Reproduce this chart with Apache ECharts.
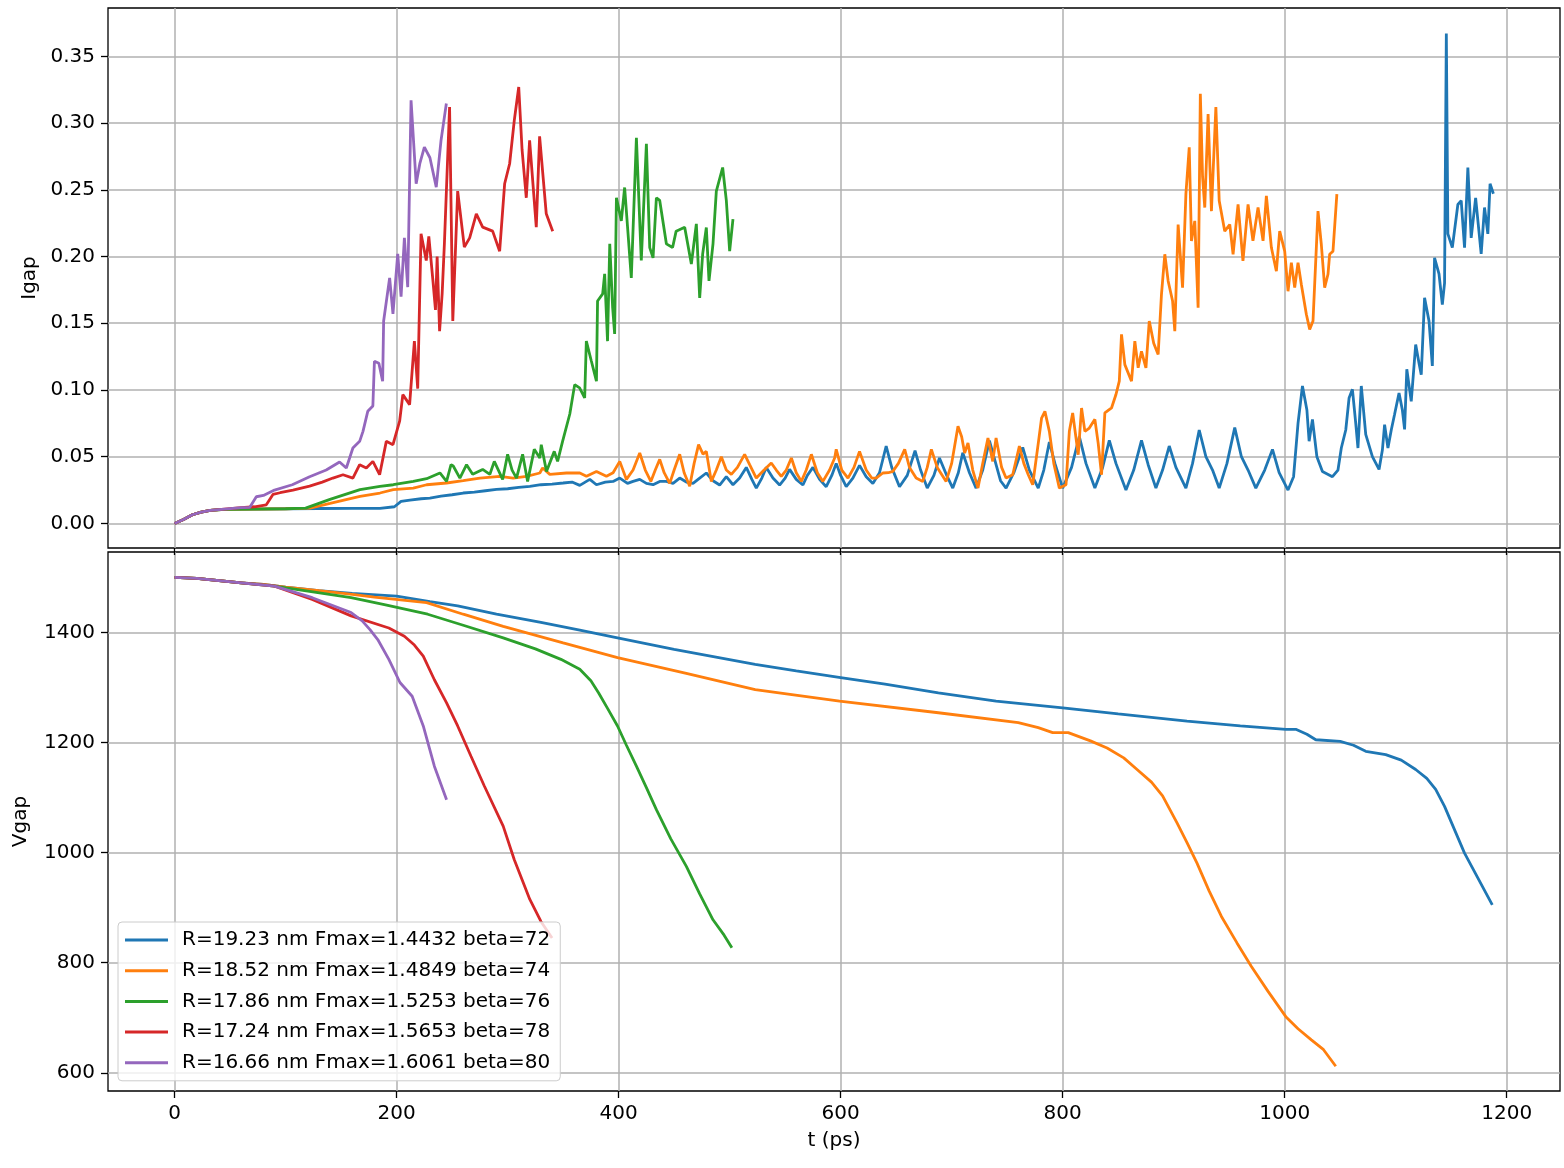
<!DOCTYPE html>
<html>
<head>
<meta charset="utf-8">
<script src="https://cdn.jsdelivr.net/npm/echarts@6/dist/echarts.min.js"></script>
<style>
html,body{margin:0;padding:0;background:#fff;}
#chart{width:1564px;height:1168px;}
</style>
</head>
<body>
<div id="chart"></div>
<script>
// ---------- DATA ----------
const seriesNames = [
  'R=19.23 nm Fmax=1.4432 beta=72',
  'R=18.52 nm Fmax=1.4849 beta=74',
  'R=17.86 nm Fmax=1.5253 beta=76',
  'R=17.24 nm Fmax=1.5653 beta=78',
  'R=16.66 nm Fmax=1.6061 beta=80'
];
const xTicks = [0, 200, 400, 600, 800, 1000, 1200];
const igapTicks = [0, 0.05, 0.10, 0.15, 0.20, 0.25, 0.30, 0.35];
const vgapTicks = [600, 800, 1000, 1200, 1400];

// Igap, [t (ps), Igap]
const igapBlue = [[0,0],[8,0.003],[16,0.0065],[24,0.0085],[32,0.0098],[45,0.0105],[70,0.0108],[100,0.011],[130,0.0112],[160,0.0113],[185,0.0113],[198,0.0125],[204,0.0165],[212,0.0175],[222,0.0185],[230,0.019],[240,0.0205],[250,0.0215],[260,0.0228],[270,0.0235],[280,0.0245],[290,0.0255],[300,0.026],[310,0.027],[320,0.0278],[330,0.029],[340,0.0295],[350,0.0303],[358,0.031],[365,0.0285],[374,0.033],[380,0.029],[388,0.031],[395,0.0315],[401,0.034],[408,0.030],[413,0.0315],[419,0.033],[425,0.030],[431,0.029],[437,0.0315],[443,0.0315],[449,0.030],[455,0.034],[461,0.031],[467,0.030],[473,0.034],[479,0.0378],[485,0.032],[491,0.0288],[497,0.035],[503,0.029],[509,0.034],[515,0.042],[520,0.033],[524,0.0265],[529,0.034],[533,0.042],[539,0.034],[545,0.0288],[550,0.034],[554,0.0405],[560,0.033],[566,0.0288],[570,0.036],[575,0.042],[581,0.033],[587,0.0275],[592,0.036],[596,0.045],[600,0.036],[605,0.0275],[611,0.034],[617,0.0435],[623,0.035],[629,0.030],[635,0.038],[641,0.058],[646,0.042],[653,0.0275],[660,0.036],[667,0.0545],[672,0.040],[678,0.0265],[684,0.036],[689,0.049],[695,0.037],[701,0.0265],[706,0.038],[710,0.053],[716,0.038],[722,0.0265],[728,0.040],[734,0.062],[740,0.044],[744,0.032],[749,0.0265],[756,0.038],[764,0.057],[770,0.040],[778,0.0265],[783,0.040],[788,0.061],[793,0.045],[800,0.0265],[808,0.042],[815,0.065],[821,0.045],[829,0.0265],[836,0.042],[842,0.0623],[848,0.045],[857,0.025],[864,0.040],[871,0.0623],[877,0.044],[884,0.0265],[890,0.040],[896,0.058],[902,0.042],[911,0.0265],[917,0.045],[923,0.070],[929,0.050],[935,0.040],[941,0.0265],[948,0.045],[955,0.0718],[961,0.050],[967,0.040],[974,0.0265],[982,0.040],[989,0.0555],[995,0.038],[1003,0.025],[1008,0.035],[1012,0.075],[1016,0.103],[1020,0.085],[1022,0.0616],[1025,0.078],[1029,0.050],[1034,0.039],[1043,0.035],[1048,0.040],[1051,0.0565],[1055,0.070],[1058,0.094],[1061,0.1005],[1064,0.075],[1066,0.0565],[1069,0.103],[1073,0.0668],[1079,0.050],[1085,0.0405],[1088,0.055],[1090,0.074],[1093,0.0565],[1096,0.070],[1099,0.0818],[1103,0.0978],[1106,0.085],[1108,0.0705],[1110,0.1155],[1114,0.0915],[1118,0.134],[1121,0.120],[1123,0.1115],[1126,0.169],[1130,0.1517],[1133,0.118],[1135,0.199],[1139,0.187],[1142,0.164],[1144,0.180],[1145.6,0.367],[1147,0.217],[1151,0.2067],[1156,0.239],[1159,0.2418],[1162,0.2067],[1165,0.2667],[1168,0.214],[1172,0.244],[1177,0.202],[1180,0.2367],[1183,0.217],[1185,0.2545],[1188,0.247]];
const igapOrange = [[0,0],[8,0.003],[16,0.0065],[24,0.0085],[32,0.0098],[45,0.0105],[70,0.0108],[100,0.011],[122,0.0115],[140,0.015],[167,0.0203],[185,0.0228],[197,0.0253],[215,0.0265],[227,0.029],[245,0.0303],[260,0.032],[275,0.034],[293,0.0353],[305,0.034],[317,0.0353],[329,0.0378],[331.5,0.0415],[338,0.0368],[353,0.0378],[365,0.0378],[371,0.0353],[380,0.039],[389,0.0353],[395,0.038],[401,0.0465],[407,0.033],[413,0.040],[419,0.0528],[424,0.040],[429,0.0315],[433,0.040],[437,0.048],[441,0.038],[446,0.030],[450,0.040],[455,0.0518],[459,0.038],[464,0.0278],[468,0.045],[472,0.059],[476,0.052],[479,0.054],[483.5,0.0315],[488,0.040],[492.5,0.050],[497,0.040],[501.5,0.0368],[507,0.042],[513.5,0.0518],[518,0.044],[524,0.034],[531,0.040],[537.5,0.0453],[542,0.040],[546.5,0.0353],[551,0.040],[555.6,0.049],[560,0.038],[564.6,0.0315],[569,0.040],[573.6,0.0518],[579,0.038],[584,0.0315],[590,0.040],[594.6,0.049],[596,0.0555],[601,0.040],[606.6,0.034],[612,0.042],[617,0.054],[623,0.040],[628,0.034],[632,0.034],[638,0.0378],[643,0.038],[647,0.039],[652,0.045],[657.7,0.0555],[662,0.042],[668,0.034],[674,0.0315],[678,0.042],[681.7,0.0555],[687,0.042],[695,0.0315],[700,0.045],[705.7,0.0728],[709,0.065],[711.7,0.0528],[714.7,0.0603],[719,0.040],[723.7,0.0265],[728,0.045],[732.7,0.064],[737,0.0465],[740,0.064],[745,0.042],[749,0.034],[755,0.0365],[761,0.058],[765,0.045],[769,0.0365],[773,0.029],[778,0.060],[781,0.079],[784,0.084],[788,0.069],[792,0.045],[797,0.0265],[803,0.029],[806,0.069],[809,0.0828],[814,0.0515],[817,0.0865],[820,0.069],[824,0.0715],[829,0.078],[832,0.060],[835,0.0365],[838,0.0828],[844,0.0865],[848,0.0966],[851,0.1066],[853,0.1417],[856,0.119],[862,0.1066],[865,0.1366],[868,0.1166],[871,0.129],[875,0.1166],[878,0.1517],[882,0.135],[886,0.1266],[889,0.1717],[892,0.2017],[895,0.1817],[899,0.1667],[901,0.144],[904,0.224],[908,0.1767],[911,0.2467],[914,0.2818],[916,0.2117],[919,0.2267],[922,0.1617],[924,0.322],[926,0.26],[928,0.2367],[931,0.3068],[934,0.234],[938,0.312],[941,0.2418],[946,0.219],[950.5,0.224],[953.5,0.2017],[958,0.239],[962.4,0.1967],[967,0.239],[971.4,0.2117],[976,0.2367],[980.5,0.2117],[983.5,0.2455],[988,0.2067],[992.5,0.189],[995.5,0.219],[1000,0.204],[1003,0.174],[1006,0.1954],[1009,0.1767],[1012,0.1954],[1015,0.179],[1019.5,0.1567],[1022.5,0.1454],[1025.5,0.1517],[1030,0.234],[1033,0.209],[1036,0.1767],[1039,0.1867],[1040.5,0.2017],[1043.5,0.204],[1047,0.2467]];
const igapGreen = [[0,0],[8,0.003],[16,0.0065],[24,0.0085],[32,0.0098],[45,0.0105],[70,0.0108],[100,0.011],[118,0.0115],[140,0.018],[167,0.0253],[185,0.0278],[197,0.029],[215,0.0315],[227,0.0335],[239,0.0378],[245,0.0315],[249,0.044],[251,0.043],[257,0.034],[263,0.044],[268.5,0.0368],[277.5,0.0405],[284,0.0368],[288,0.0465],[295.5,0.033],[300,0.0518],[304,0.040],[308,0.034],[313.5,0.0518],[318,0.0315],[324,0.0555],[329,0.049],[330.3,0.059],[335,0.039],[342,0.054],[345,0.0465],[349.5,0.0615],[356,0.082],[360.4,0.104],[364.8,0.1016],[369.4,0.094],[370.9,0.1366],[375.4,0.1217],[380,0.1066],[381,0.1667],[385.6,0.172],[387.4,0.187],[390,0.1366],[392,0.2095],[394.6,0.1617],[396.4,0.142],[398,0.244],[402.4,0.2267],[405.4,0.2517],[411.4,0.184],[416,0.289],[420.4,0.197],[425,0.2845],[428,0.2067],[431,0.199],[434,0.244],[437,0.242],[443,0.2095],[448.6,0.2067],[451.8,0.219],[459.5,0.222],[465.5,0.1944],[470,0.2245],[473,0.169],[475.7,0.202],[479,0.2217],[481.4,0.1817],[485,0.2095],[488,0.249],[493.7,0.2667],[497,0.242],[500,0.204],[503,0.228]];
const igapRed = [[0,0],[8,0.003],[16,0.0065],[24,0.0085],[32,0.0098],[45,0.0108],[60,0.0118],[72,0.0125],[82.6,0.014],[88.6,0.0217],[95,0.023],[106.6,0.025],[121.6,0.028],[133,0.031],[142.6,0.034],[151.7,0.0365],[160.6,0.034],[166.7,0.044],[172.7,0.0415],[178.6,0.0465],[184.7,0.0365],[190.7,0.0615],[196.7,0.059],[202.7,0.0766],[205.6,0.0965],[211.7,0.089],[216,0.1366],[219,0.101],[222,0.217],[226.7,0.197],[229,0.215],[232.7,0.182],[235,0.16],[236.5,0.2],[238.7,0.144],[241,0.172],[243,0.209],[247.7,0.312],[250.6,0.1517],[255,0.249],[261,0.207],[265.8,0.214],[271.8,0.232],[277.5,0.222],[286.5,0.219],[292.8,0.204],[297.3,0.2545],[301.8,0.2695],[306,0.302],[310,0.327],[313,0.28],[316.8,0.244],[319.8,0.287],[325.8,0.222],[328.8,0.290],[334.8,0.232],[340.6,0.219]];
const igapPurple = [[0,0],[8,0.003],[16,0.0065],[24,0.0085],[32,0.0098],[45,0.0108],[60,0.0118],[67.6,0.012],[73.6,0.020],[80,0.021],[90,0.025],[106,0.029],[121.6,0.035],[136.6,0.040],[148.6,0.046],[154.7,0.0415],[160.6,0.0565],[166.7,0.0615],[169.7,0.069],[174,0.084],[178.6,0.088],[180,0.1215],[184,0.12],[187.4,0.1065],[188.3,0.1517],[193.7,0.184],[196.7,0.157],[201,0.202],[204,0.17],[207,0.214],[210,0.177],[213,0.317],[217.6,0.2545],[221,0.27],[225,0.282],[230,0.274],[235.7,0.252],[240,0.287],[244.8,0.3146]];

// Vgap, [t (ps), Vgap]
const vgapBlue = [[0,1500],[20,1498],[40,1494],[60,1490],[80,1487],[100,1482],[130,1476],[160,1471],[200,1466],[230,1456],[255,1448],[290,1433],[330,1418],[365,1404],[399,1390],[450,1369],[523,1342],[560,1330],[600,1318],[640,1306],[688,1290],[740,1275],[800,1263],[850,1252],[912,1239],[960,1230],[1001,1224],[1010,1224],[1020,1215],[1028,1205],[1050,1202],[1062,1195],[1073,1184],[1091,1178],[1105,1168],[1118,1151],[1128,1135],[1136,1115],[1144,1084],[1162,999],[1187,905]];
const vgapOrange = [[0,1500],[20,1498],[40,1494],[60,1490],[80,1487],[100,1482],[130,1476],[160,1469],[180,1464],[227,1454],[260,1433],[296,1411],[350,1381],[399,1354],[460,1326],[523,1296],[599,1275],[688,1254],[760,1236],[778,1227],[791,1218],[805,1218],[825,1203],[840,1190],[855,1172],[867,1151],[880,1128],[890,1103],[903,1054],[912,1018],[921,981],[932,930],[943,884],[957,836],[970,793],[985,748],[1001,702],[1012,680],[1024,660],[1035,642],[1046,612]];
const vgapGreen = [[0,1500],[20,1498],[40,1494],[60,1490],[90,1484],[120,1475],[159,1463],[190,1450],[228,1433],[260,1413],[296,1390],[325,1370],[348,1351],[365,1333],[375,1312],[382,1290],[390,1262],[399,1230],[407,1195],[416,1157],[425,1118],[434,1078],[447,1025],[461,975],[473,925],[485,878],[495,850],[502,827]];
const vgapRed = [[0,1500],[20,1498],[40,1494],[60,1490],[90,1484],[124,1460],[159,1430],[193,1408],[207,1393],[216,1377],[224,1357],[234,1314],[245,1272],[255,1230],[267,1175],[279,1121],[296,1048],[306,987],[320,915],[330,875],[340,845]];
const vgapPurple = [[0,1500],[20,1498],[40,1494],[60,1490],[90,1484],[124,1463],[159,1436],[169,1421],[176,1405],[183,1387],[193,1351],[203,1309],[214,1284],[224,1230],[234,1157],[245,1096]];

const colors = ['#1f77b4', '#ff7f0e', '#2ca02c', '#d62728', '#9467bd'];
const igapData = [igapBlue, igapOrange, igapGreen, igapRed, igapPurple];
const vgapData = [vgapBlue, vgapOrange, vgapGreen, vgapRed, vgapPurple];

// ---------- CHART ----------
const FONT = 'DejaVu Sans';
const FS = 20;
const chart = echarts.init(document.getElementById('chart'), null, {renderer: 'canvas'});

const gridLine = {show: true, lineStyle: {color: '#b0b0b0', width: 1.5}};
const tick = {show: true, inside: false, length: 7, lineStyle: {color: '#000', width: 1.3}};
const label = {color: '#000', fontFamily: FONT, fontSize: FS, margin: 13};
const axisLine = {show: false, onZero: false};

const series = [];
seriesNames.forEach((name, i) => {
  series.push({
    name, type: 'line', xAxisIndex: 0, yAxisIndex: 0,
    data: igapData[i], showSymbol: false, symbol: 'none',
    lineStyle: {width: 2.8, color: colors[i]}, itemStyle: {color: colors[i]},
    animation: false, z: 2 + i * 0.01
  });
});
seriesNames.forEach((name, i) => {
  series.push({
    name, type: 'line', xAxisIndex: 1, yAxisIndex: 1,
    data: vgapData[i], showSymbol: false, symbol: 'none',
    lineStyle: {width: 2.8, color: colors[i]}, itemStyle: {color: colors[i]},
    animation: false, z: 2 + i * 0.01
  });
});

const option = {
  animation: false,
  backgroundColor: '#fff',
  grid: [
    {left: 108, top: 8, width: 1452, height: 540, show: true, borderColor: '#000', borderWidth: 1.3, backgroundColor: 'transparent'},
    {left: 108, top: 552, width: 1452, height: 539, show: true, borderColor: '#000', borderWidth: 1.3, backgroundColor: 'transparent'}
  ],
  xAxis: [
    {type: 'value', gridIndex: 0, min: -60, max: 1248, position: 'bottom',
     axisLine, axisTick: Object.assign({customValues: xTicks}, tick),
     axisLabel: {show: false}, splitLine: gridLine},
    {type: 'value', gridIndex: 1, min: -60, max: 1248, position: 'bottom',
     axisLine, axisTick: Object.assign({customValues: xTicks}, tick),
     axisLabel: Object.assign({customValues: xTicks, formatter: v => String(v)}, label), splitLine: gridLine,
     name: 't (ps)', nameLocation: 'middle', nameGap: 40,
     nameTextStyle: {color: '#000', fontFamily: FONT, fontSize: FS}}
  ],
  yAxis: [
    {type: 'value', gridIndex: 0, min: -0.0184, max: 0.3862, position: 'left',
     axisLine, axisTick: Object.assign({customValues: igapTicks}, tick),
     axisLabel: Object.assign({customValues: igapTicks, formatter: v => v.toFixed(2)}, label),
     splitLine: gridLine,
     name: 'Igap', nameLocation: 'middle', nameGap: 68, nameRotate: 90,
     nameTextStyle: {color: '#000', fontFamily: FONT, fontSize: FS}},
    {type: 'value', gridIndex: 1, min: 567, max: 1546, position: 'left',
     axisLine, axisTick: Object.assign({customValues: vgapTicks}, tick),
     axisLabel: Object.assign({customValues: vgapTicks, formatter: v => String(v)}, label),
     splitLine: gridLine,
     name: 'Vgap', nameLocation: 'middle', nameGap: 77, nameRotate: 90,
     nameTextStyle: {color: '#000', fontFamily: FONT, fontSize: FS}}
  ],
  legend: {
    show: true, orient: 'vertical', left: 118, top: 922,
    data: seriesNames.map(n => ({name: n, icon: 'rect'})),
    itemWidth: 43, itemHeight: 3, itemGap: 8.7,
    padding: [7, 10, 7, 7],
    backgroundColor: 'rgba(255,255,255,0.8)', borderColor: '#cccccc', borderWidth: 1, borderRadius: 4,
    textStyle: {color: '#000', fontFamily: FONT, fontSize: FS, lineHeight: 22, padding: [0, 0, 0, 9]},
    selectedMode: false, z: 10
  },
  series
};
chart.setOption(option);
</script>
</body>
</html>
